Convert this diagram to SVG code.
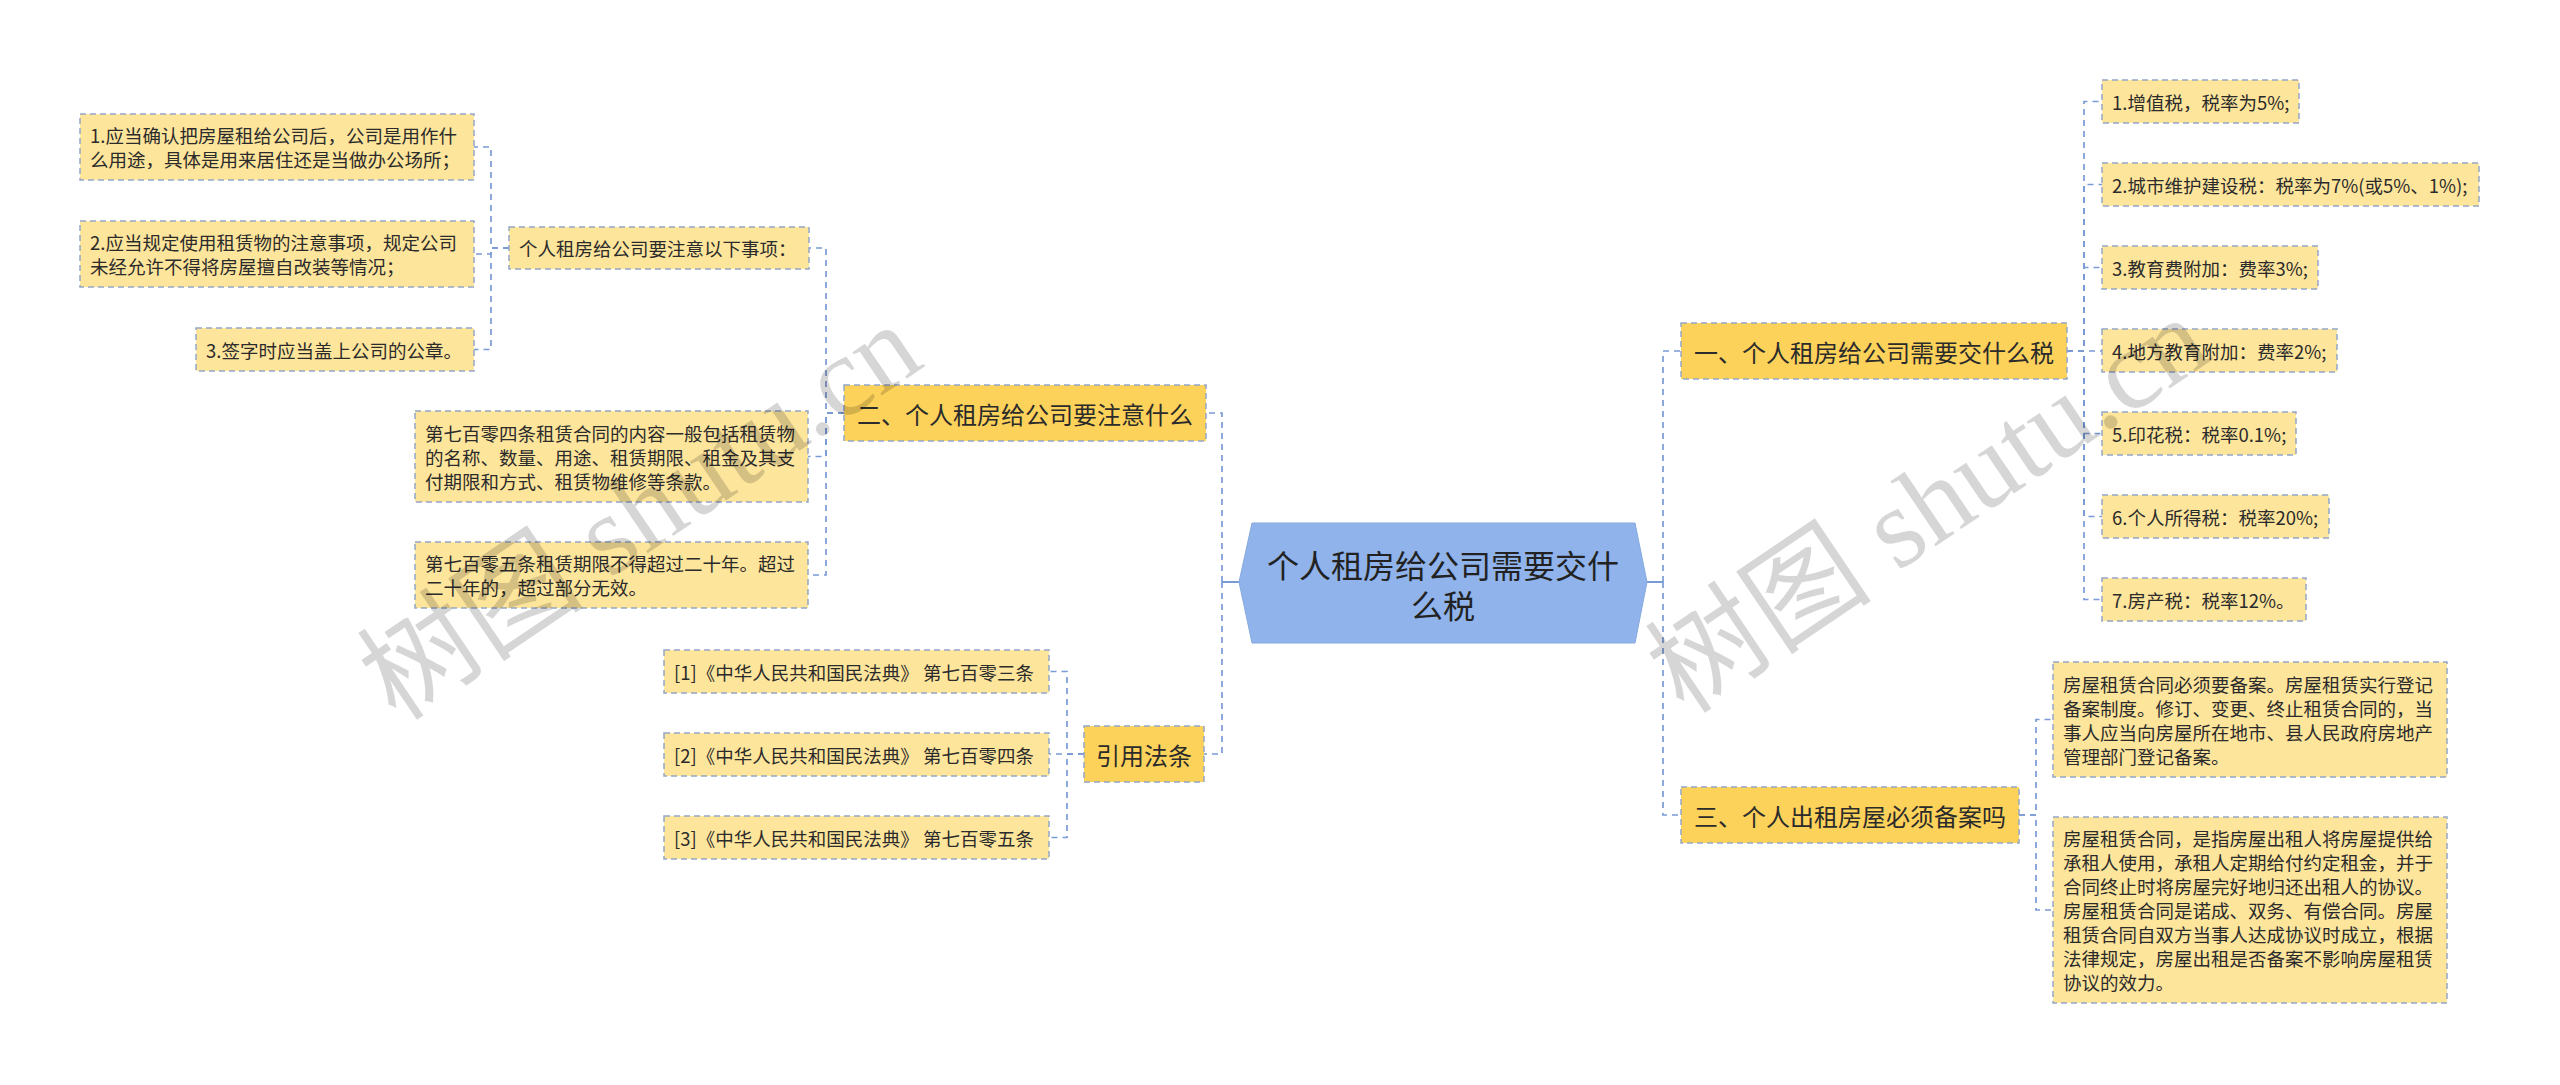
<svg xmlns="http://www.w3.org/2000/svg" width="2560" height="1085" viewBox="0 0 2560 1085">
<style>
.bg{fill:#ffffff}
.leaf{fill:#fee59c;stroke:#94a7c6;stroke-width:1.5;stroke-dasharray:6 4}
.main{fill:#fdd25a;stroke:#94a7c6;stroke-width:1.5;stroke-dasharray:6 4}
.root{fill:#8fb3ea;stroke:#86a9e0;stroke-width:1}
.t{font-family:"Noto Sans CJK SC","Microsoft YaHei",sans-serif;fill:#2b2b2b;dominant-baseline:central}
.s{font-size:18.5px}
.m{font-size:24px;text-anchor:middle}
.r{font-size:32px;text-anchor:middle;fill:#222}
.c{fill:none;stroke:#7a9bd5;stroke-width:1.7;stroke-dasharray:6 5}
.cs{fill:none;stroke:#7a9bd5;stroke-width:2}
.wm{font-family:"Liberation Serif","Noto Sans CJK SC",serif;font-size:114px;fill:#000;fill-opacity:0.16;text-anchor:middle;dominant-baseline:central}
</style>
<rect class="bg" x="0" y="0" width="2560" height="1085"/>

<g id="connectors">
<path class="cs" d="M1239,582 H1222"/>
<path class="cs" d="M1647,582 H1663"/>
<path class="c" d="M1222,582 V413 H1206"/>
<path class="c" d="M1222,582 V754 H1204"/>
<path class="c" d="M1663,582 V351 H1681"/>
<path class="c" d="M1663,582 V815 H1681"/>
<path class="c" d="M2067,351 H2084 V101.5 H2102"/>
<path class="c" d="M2067,351 H2084 V184.5 H2102"/>
<path class="c" d="M2067,351 H2084 V267.5 H2102"/>
<path class="c" d="M2067,351 H2102"/>
<path class="c" d="M2067,351 H2084 V433.5 H2102"/>
<path class="c" d="M2067,351 H2084 V516.5 H2102"/>
<path class="c" d="M2067,351 H2084 V599.5 H2102"/>
<path class="c" d="M2019,815 H2036 V719.5 H2053"/>
<path class="c" d="M2019,815 H2036 V910 H2053"/>
<path class="c" d="M844,413 H826 V248 H809"/>
<path class="c" d="M844,413 H826 V456.5 H808"/>
<path class="c" d="M844,413 H826 V575 H808"/>
<path class="c" d="M509,248 H491 V147 H474"/>
<path class="c" d="M509,248 H491 V254 H474"/>
<path class="c" d="M509,248 H491 V349.5 H474"/>
<path class="c" d="M1084,754 H1067 V671.5 H1049"/>
<path class="c" d="M1084,754 H1049"/>
<path class="c" d="M1084,754 H1067 V837.5 H1049"/>
</g>

<g id="root">
<polygon class="root" points="1252,523 1635,523 1647,582 1635,643 1252,643 1239,582"/>
<text class="t r" x="1443" y="564">个人租房给公司需要交什</text>
<text class="t r" x="1443" y="604">么税</text>
</g>

<g id="n1">
<rect class="main" x="1681" y="323" width="386" height="56"/>
<text class="t m" x="1874" y="351">一、个人租房给公司需要交什么税</text>
</g>
<g id="n1-1"><rect class="leaf" x="2102" y="80" width="197" height="43"/><text class="t s" x="2112" y="101.5">1.增值税，税率为5%;</text></g>
<g id="n1-2"><rect class="leaf" x="2102" y="163" width="377" height="43"/><text class="t s" x="2112" y="184.5">2.城市维护建设税：税率为7%(或5%、1%);</text></g>
<g id="n1-3"><rect class="leaf" x="2102" y="246" width="216" height="43"/><text class="t s" x="2112" y="267.5">3.教育费附加：费率3%;</text></g>
<g id="n1-4"><rect class="leaf" x="2102" y="329" width="235" height="43"/><text class="t s" x="2112" y="350.5">4.地方教育附加：费率2%;</text></g>
<g id="n1-5"><rect class="leaf" x="2102" y="412" width="194" height="43"/><text class="t s" x="2112" y="433.5">5.印花税：税率0.1%;</text></g>
<g id="n1-6"><rect class="leaf" x="2102" y="495" width="227" height="43"/><text class="t s" x="2112" y="516.5">6.个人所得税：税率20%;</text></g>
<g id="n1-7"><rect class="leaf" x="2102" y="578" width="204" height="43"/><text class="t s" x="2112" y="599.5">7.房产税：税率12%。</text></g>

<g id="n3">
<rect class="main" x="1681" y="787" width="338" height="56"/>
<text class="t m" x="1850" y="815">三、个人出租房屋必须备案吗</text>
</g>
<g id="n3-1">
<rect class="leaf" x="2053" y="662" width="394" height="115"/>
<text class="t s" x="2063" y="683.5">房屋租赁合同必须要备案。房屋租赁实行登记</text>
<text class="t s" x="2063" y="707.5">备案制度。修订、变更、终止租赁合同的，当</text>
<text class="t s" x="2063" y="731.5">事人应当向房屋所在地市、县人民政府房地产</text>
<text class="t s" x="2063" y="755.5">管理部门登记备案。</text>
</g>
<g id="n3-2">
<rect class="leaf" x="2053" y="817" width="394" height="186"/>
<text class="t s" x="2063" y="838">房屋租赁合同，是指房屋出租人将房屋提供给</text>
<text class="t s" x="2063" y="862">承租人使用，承租人定期给付约定租金，并于</text>
<text class="t s" x="2063" y="886">合同终止时将房屋完好地归还出租人的协议。</text>
<text class="t s" x="2063" y="910">房屋租赁合同是诺成、双务、有偿合同。房屋</text>
<text class="t s" x="2063" y="934">租赁合同自双方当事人达成协议时成立，根据</text>
<text class="t s" x="2063" y="958">法律规定，房屋出租是否备案不影响房屋租赁</text>
<text class="t s" x="2063" y="982">协议的效力。</text>
</g>

<g id="n2">
<rect class="main" x="844" y="385" width="362" height="56"/>
<text class="t m" x="1025" y="413">二、个人租房给公司要注意什么</text>
</g>
<g id="n2-1">
<rect class="leaf" x="509" y="227" width="300" height="42"/>
<text class="t s" x="519" y="248">个人租房给公司要注意以下事项：</text>
</g>
<g id="n2-1-1">
<rect class="leaf" x="80" y="114" width="394" height="66"/>
<text class="t s" x="90" y="135">1.应当确认把房屋租给公司后，公司是用作什</text>
<text class="t s" x="90" y="159">么用途，具体是用来居住还是当做办公场所；</text>
</g>
<g id="n2-1-2">
<rect class="leaf" x="80" y="221" width="394" height="66"/>
<text class="t s" x="90" y="242">2.应当规定使用租赁物的注意事项，规定公司</text>
<text class="t s" x="90" y="266">未经允许不得将房屋擅自改装等情况；</text>
</g>
<g id="n2-1-3">
<rect class="leaf" x="196" y="328" width="278" height="43"/>
<text class="t s" x="206" y="349.5">3.签字时应当盖上公司的公章。</text>
</g>
<g id="n2-2">
<rect class="leaf" x="415" y="411" width="393" height="91"/>
<text class="t s" x="425" y="432.5">第七百零四条租赁合同的内容一般包括租赁物</text>
<text class="t s" x="425" y="456.5">的名称、数量、用途、租赁期限、租金及其支</text>
<text class="t s" x="425" y="480.5">付期限和方式、租赁物维修等条款。</text>
</g>
<g id="n2-3">
<rect class="leaf" x="415" y="542" width="393" height="66"/>
<text class="t s" x="425" y="563">第七百零五条租赁期限不得超过二十年。超过</text>
<text class="t s" x="425" y="587">二十年的，超过部分无效。</text>
</g>

<g id="n4">
<rect class="main" x="1084" y="726" width="120" height="56"/>
<text class="t m" x="1144" y="754">引用法条</text>
</g>
<g id="n4-1"><rect class="leaf" x="664" y="650" width="385" height="43"/><text class="t s" x="674" y="671.5">[1]《中华人民共和国民法典》 第七百零三条</text></g>
<g id="n4-2"><rect class="leaf" x="664" y="733" width="385" height="43"/><text class="t s" x="674" y="754.5">[2]《中华人民共和国民法典》 第七百零四条</text></g>
<g id="n4-3"><rect class="leaf" x="664" y="816" width="385" height="43"/><text class="t s" x="674" y="837.5">[3]《中华人民共和国民法典》 第七百零五条</text></g>

<g id="watermarks">
<text class="wm" transform="translate(640,512) rotate(-34)">树图 shutu.cn</text>
<text class="wm" transform="translate(1928,505) rotate(-34)">树图 shutu.cn</text>
</g>
</svg>
